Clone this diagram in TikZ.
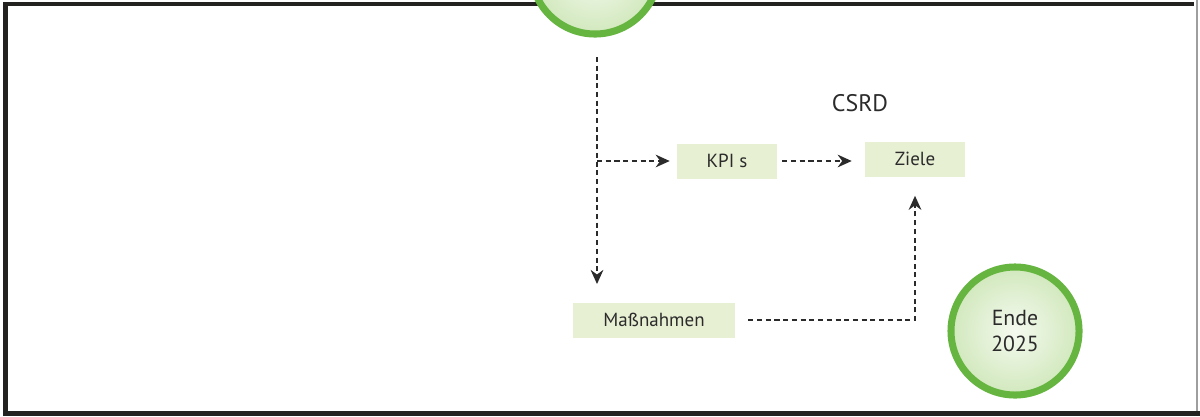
\documentclass[tikz,border=0pt]{standalone}
\usepackage{fontspec}
\setmainfont{PT Sans}
\usetikzlibrary{arrows.meta}
\definecolor{rahmen}{rgb}{0.14,0.13,0.13}
\definecolor{rahmengrau}{rgb}{0.62,0.62,0.62}
\definecolor{kastengruen}{rgb}{0.91,0.94,0.83}
\definecolor{kreisgruen}{rgb}{0.40,0.71,0.25}
\definecolor{kreishell}{rgb}{0.96,0.98,0.94}
\definecolor{kreisdunkel}{rgb}{0.82,0.91,0.74}
\definecolor{schrift}{rgb}{0.17,0.17,0.17}
\tikzset{
  kasten/.style={fill=kastengruen, text=schrift, minimum height=0.875cm, inner sep=0pt, font=\fontsize{13.5}{16}\selectfont},
  kreis/.style={circle, draw=kreisgruen, line width=5pt, minimum size=3.2cm, inner sep=0pt,
    inner color=kreishell, outer color=kreisdunkel, text=schrift, align=center, font=\fontsize{15.5}{18}\selectfont},
  pfeil/.style={-{Stealth[length=10pt,width=9pt]}, line width=1.3pt, dash pattern=on 3.6pt off 2.6pt, color=schrift}
}
\begin{document}
\begin{tikzpicture}[x=0.025cm,y=-0.025cm]
			\useasboundingbox (0,0) rectangle (1200,416);
			\clip (0,0) rectangle (1200,416);
			\fill [white] (0,0) rectangle (1200,416);
			% Rahmen
			\draw [line width=3.5pt, color=rahmen] (5.5,416) -- (5.5,4) -- (1194,4);
			\draw [line width=3.5pt, color=rahmen] (3,413.5) -- (1200,413.5);
			\draw [line width=0.8pt, color=rahmengrau] (1197,0) -- (1197,411);
			% Kreise
			\node [kreis] (start) at (595,-30) {};
			\node [kreis] (ende) at (1015,331) {Ende\\2025};
			% Kaesten
			\node [kasten, minimum width=2.5cm] (kpi) at (727,161) {KPI s};
			\node [kasten, minimum width=2.5cm] (ziele) at (915,159) {Ziele};
			\node [kasten, minimum width=4.05cm] (mass) at (654,320) {Maßnahmen};
			\node [text=schrift, font=\fontsize{17}{20}\selectfont] (csrd) at (860,103) {CSRD};
			% Pfeile
			\coordinate (oben) at (597,57);
			\coordinate (abzweig) at (597,161);
			\coordinate (unten) at (597,284);
			\draw [pfeil] (oben) -- (unten);
			\draw [pfeil, shorten >=0.175cm] (abzweig) -- (kpi.west);
			\draw [pfeil, shorten <=0.125cm, shorten >=0.325cm] (kpi.east) -- (ziele.west |- kpi.east);
			\draw [pfeil, shorten <=0.325cm, shorten >=0.475cm] (mass.east) -| (ziele.south);
			\end{tikzpicture}
\end{document}
